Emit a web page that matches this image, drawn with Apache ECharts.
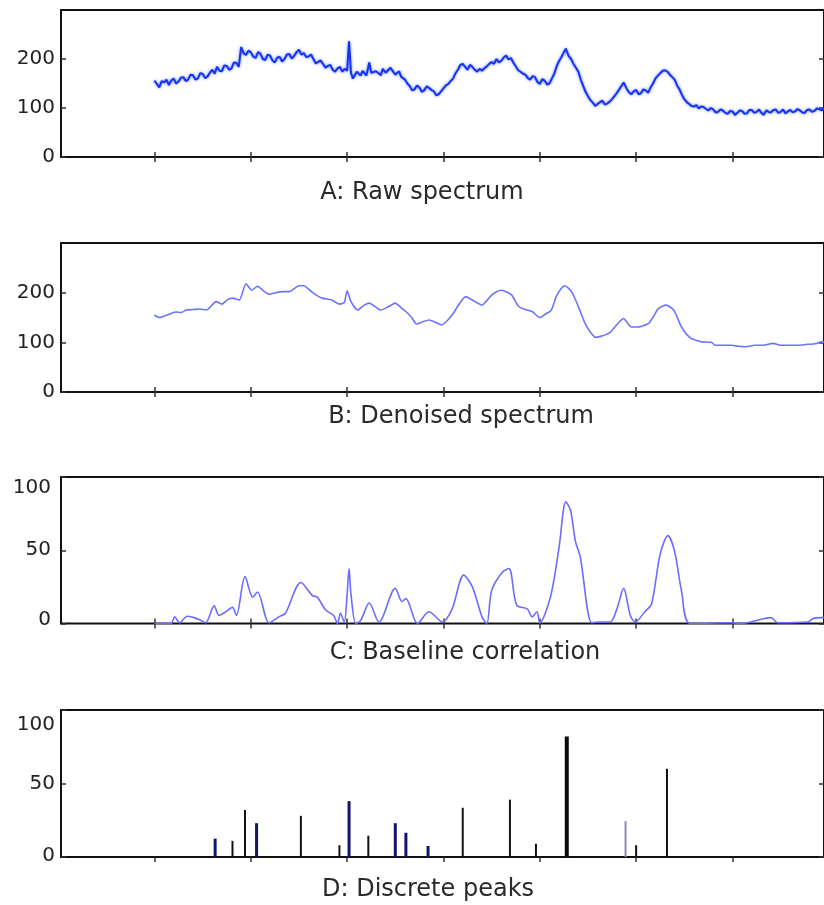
<!DOCTYPE html>
<html><head><meta charset="utf-8">
<script src="https://cdn.jsdelivr.net/npm/echarts@6/dist/echarts.min.js"></script>
<style>html,body{margin:0;padding:0;background:#fff}#c{width:824px;height:905px}</style>
</head><body><div id="c"></div>
<script>
// ---------------- data ----------------
const xTicks = [100, 200, 300, 400, 500, 600, 700];
const xMin = 3, xMax = 795;
const yTicksSpectrum = [0, 100, 200];
const yTicksCorr = [0, 50, 100];
const panelTitles = ['A: Raw spectrum', 'B: Denoised spectrum', 'C: Baseline correlation', 'D: Discrete peaks'];

const rawSpectrum = [[100,156],[102.5,149],[105,142],[107.5,155],[110,152],[112.5,158],[115,147],[117.5,156],[120,160],[122.5,150],[125,154],[127.5,162],[130,163],[132.5,155],[135,158],[137.5,168],[140,167],[142.5,158],[145,160],[147.5,171],[150,170],[152.5,161],[155,164],[157.5,172],[160,178],[162.5,170],[165,184],[167.5,176],[170,175],[172.5,187],[175,186],[177.5,178],[180,181],[182.5,193],[185,192],[187.5,184],[190,224],[192.5,212],[195,208],[197.5,217],[200,214],[202.5,205],[205,202],[207.5,214],[210,211],[212.5,200],[215,198],[217.5,209],[220,207],[222.5,197],[225,193],[227.5,203],[230,204],[232.5,195],[235,200],[237.5,209],[240,210],[242.5,201],[245,206],[247.5,214],[250,219],[252.5,209],[255,212],[257.5,204],[260,205],[262.5,209],[265,200],[267.5,191],[270,194],[272.5,197],[275,190],[277.5,182],[280,186],[282.5,188],[285,178],[287.5,174],[290,181],[292.5,184],[295,174],[297.5,180],[300,176],[302,236],[304,172],[306,160],[308,164],[310,174],[312,170],[314,166],[316,176],[318,171],[320,166],[323,193],[325,172],[327,168],[330,175],[332,172],[335,167],[337,180],[340,172],[342,175],[345,182],[347,178],[350,168],[352,170],[354,175],[356,164],[358,160],[360,158],[362.5,150],[365,145],[367.5,136],[370,138],[372.5,146],[375,142],[377.5,133],[380,136],[382.5,144],[385,141],[387.5,137],[390,134],[392.5,126],[395,128],[397.5,134],[400,140],[402.5,146],[405,149],[407.5,155],[410,160],[412.5,171],[415,178],[417.5,188],[420,190],[422.5,184],[425,178],[427.5,188],[430,184],[432.5,178],[435,174],[437.5,180],[440,176],[442.5,181],[445,185],[447.5,190],[450,194],[452.5,190],[455,200],[457.5,193],[460,196],[462.5,203],[465,207],[467.5,199],[470,202],[472.5,193],[475,185],[477.5,177],[480,174],[482.5,170],[485,168],[487.5,161],[490,158],[492.5,165],[495,163],[497.5,153],[500,149],[502.5,159],[505,156],[507.5,148],[510,150],[512.5,160],[515,170],[517.5,185],[520,196],[522.5,204],[525,214],[527,221],[530,206],[532.5,200],[535,190],[537.5,182],[540,174],[542.5,158],[545,145],[547.5,133],[550,124],[552.5,116],[555,111],[557.5,104],[560,108],[562.5,112],[565,115],[567.5,107],[570,109],[572.5,113],[575,118],[577.5,124],[580,131],[582.5,138],[585,146],[587,152],[590,140],[592.5,132],[595,128],[597.5,134],[600,137],[602.5,128],[605,130],[607.5,138],[610,136],[612.5,131],[615,142],[617.5,150],[620,160],[622.5,166],[625,171],[627.5,176],[630,177],[632.5,174],[635,168],[637.5,163],[640,158],[642.5,146],[645,138],[647.5,127],[650,118],[652.5,112],[655,108],[657.5,104],[660,103],[662.5,106],[665,99],[667.5,103],[670,102],[672.5,98],[675,95],[677.5,100],[680,97],[682.5,91],[685,92],[687.5,97],[690,95],[692.5,90],[695,88],[697.5,94],[700,93],[702.5,86],[705,90],[707.5,95],[710,94],[712.5,88],[715,89],[717.5,96],[720,96],[722.5,90],[725,92],[727.5,97],[730,90],[732.5,86],[735,95],[737.5,92],[740,91],[742.5,96],[745,97],[747.5,90],[750,92],[752.5,97],[755,89],[757.5,93],[760,96],[762.5,91],[765,93],[767.5,98],[770,95],[772.5,91],[775,90],[777.5,96],[780,97],[782.5,92],[785,94],[787.5,99],[790,98],[792.5,95],[795,100]];

const denoisedSpectrum = [[100,155],[105,150],[113,155],[122,161],[128,160],[133,165],[140,166],[147,167],[154,165],[164,182],[170,177],[176,186],[181,189],[188,185],[195,218],[201,205],[207,213],[213,204],[219,197],[226,200],[233,202],[240,202],[245,208],[250,214],[255,214],[263,202],[268,195],[274,189],[284,185],[292,177],[297,180],[300,204],[304,182],[311,165],[317,174],[323,179],[329,172],[335,165],[343,172],[350,179],[356,170],[361,162],[367,150],[372,137],[378,141],[385,145],[392,140],[398,135],[403,142],[409,155],[416,176],[423,192],[431,184],[440,175],[445,184],[450,195],[455,202],[460,205],[466,201],[471,195],[478,172],[485,166],[492,162],[500,150],[506,157],[512,165],[517,192],[522,208],[526,214],[533,202],[540,172],[547,138],[552,122],[558,110],[563,112],[568,115],[573,120],[578,131],[583,142],[587,148],[591,139],[595,131],[602,131],[608,134],[613,138],[618,152],[623,168],[631,175],[639,165],[647,131],[652,117],[657,108],[664,103],[668,101],[678,100],[682,94],[690,94],[699,94],[706,92],[714,91],[723,94],[732,94],[742,98],[750,94],[760,94],[768,94],[778,96],[786,97],[792,101],[795,101]];

const baselineCorrelation = [[100,0],[117,0],[121,4.5],[126,0.5],[134,5],[141,4],[147,2.5],[153,0.5],[162,12],[167,5.5],[174,8],[181,11],[185,5.5],[194,32],[202,18],[207,21.5],[219,0.5],[229,4.5],[236,7],[252,28],[264,19],[269,18],[278,9],[286,5.5],[290,0],[293,7],[297,1],[300,20],[302,37.5],[304,20],[309,0],[314,2],[323,14],[333,1],[350,24],[357,15],[361,17],[373,0],[385,8],[399,1],[409,10],[421,33],[430,25],[440,4.5],[445,0],[450,22.5],[461,35],[468,37.5],[476,12.5],[487,10],[492,4.5],[497,8],[500,0.5],[511,18],[520,52],[527,83],[532,77],[537,56],[542,45.5],[554,0.5],[561,1],[573,1],[580,10],[587,24],[594,5.5],[599,1],[609,8],[616,13.5],[625,47.5],[633,60],[640,49],[647,22.5],[656,0],[699,0.5],[709,0],[740,4],[747,0.5],[778,1],[784,3.5],[792,4],[795,4]];

const navyPeaks = [[163,12.5],[206,23],[302,38],[350,23],[361,16.5],[384,7.5]];
const blackPeaks = [[181,11],[194,32],[252,28],[292,8],[322,14.5],[420,33.5],[469,39],[496,9],[600,8],[632,60]];
const majorPeak = [[528,82]];
const faintPeak = [[589,24.5]];

// ---------------- layout ----------------
const FONT = 'DejaVu Sans';
const L = 61, W = 765;
const panels = [
  { top: 10,  h: 147,   yMax: 300, yTicks: yTicksSpectrum, margin: 6,  hiPad: 0,  loPad: 0, bottomTicks: true, titleX: 422, titleY: 193 },
  { top: 243, h: 149,   yMax: 300, yTicks: yTicksSpectrum, margin: 6,  hiPad: 0,  loPad: 0, bottomTicks: true, titleX: 461, titleY: 417 },
  { top: 477, h: 146.5, yMax: 100, yTicks: yTicksCorr,     margin: 10, hiPad: 22, loPad: 8, bottomTicks: true, titleX: 465, titleY: 653 },
  { top: 710, h: 147,   yMax: 100, yTicks: yTicksCorr,     margin: 6,  hiPad: 30, loPad: 3, bottomTicks: false, titleX: 428, titleY: 890 }
];

const grids = [], xAxes = [], yAxes = [];
panels.forEach((p, i) => {
  grids.push({ left: L, top: p.top, width: W, height: p.h, show: true, borderColor: '#111', borderWidth: 2, backgroundColor: 'transparent' });
  const tick = { inside: true, length: 5, customValues: xTicks, lineStyle: { color: '#333', width: 1.5 } };
  xAxes.push({ type: 'value', gridIndex: i, min: xMin, max: xMax, position: 'bottom',
    axisLine: { show: false }, splitLine: { show: false }, axisLabel: { show: false },
    axisTick: Object.assign({ show: p.bottomTicks }, tick) });
  xAxes.push({ type: 'value', gridIndex: i, min: xMin, max: xMax, position: 'top',
    axisLine: { show: false }, splitLine: { show: false }, axisLabel: { show: false },
    axisTick: Object.assign({ show: true }, tick) });
  const topVal = p.yTicks[p.yTicks.length - 1];
  const lblStyle = { fontFamily: FONT, fontSize: 20, color: '#222' };
  yAxes.push({ type: 'value', gridIndex: i, min: 0, max: p.yMax, position: 'left',
    axisLine: { show: false }, splitLine: { show: false },
    axisTick: { show: true, inside: true, length: 5, customValues: p.yTicks, lineStyle: { color: '#333', width: 1.5 } },
    axisLabel: Object.assign({ customValues: p.yTicks, margin: p.margin,
      formatter: v => (p.hiPad && v === topVal) ? '{hi|' + v + '}' : (p.loPad && v === 0) ? '{lo|' + v + '}' : '{n|' + v + '}',
      rich: {
        n: Object.assign({}, lblStyle),
        hi: Object.assign({ padding: [p.hiPad, 0, 0, 0] }, lblStyle),
        lo: Object.assign({ padding: [0, 0, p.loPad, 0] }, lblStyle)
      } }, lblStyle) });
  yAxes.push({ type: 'value', gridIndex: i, min: 0, max: p.yMax, position: 'right',
    axisLine: { show: false }, splitLine: { show: false }, axisLabel: { show: false },
    axisTick: { show: true, inside: true, length: 5, customValues: p.yTicks, lineStyle: { color: '#333', width: 1.5 } } });
});

function stems(data, color, width, gi) {
  return {
    type: 'custom', xAxisIndex: gi * 2, yAxisIndex: gi * 2, data: data,
    encode: { x: 0, y: 1 }, silent: true,
    renderItem: (params, api) => {
      const b = api.coord([api.value(0), 0]);
      const t = api.coord([api.value(0), api.value(1)]);
      return { type: 'line', shape: { x1: b[0], y1: b[1], x2: t[0], y2: t[1] },
        style: { stroke: color, lineWidth: width } };
    }
  };
}

const option = {
  animation: false,
  backgroundColor: '#fff',
  grid: grids, xAxis: xAxes, yAxis: yAxes,
  graphic: panels.map((p, i) => ({
    type: 'text', x: p.titleX, y: p.titleY,
    style: { text: panelTitles[i], font: '24px "DejaVu Sans"', fill: '#2a2a2a', textAlign: 'center', textVerticalAlign: 'middle' }
  })),
  series: [
    { type: 'line', xAxisIndex: 0, yAxisIndex: 0, data: rawSpectrum, symbol: 'none',
      lineStyle: { color: '#1434f2', width: 2, shadowBlur: 3, shadowColor: 'rgba(40,70,255,0.7)' } },
    { type: 'line', xAxisIndex: 2, yAxisIndex: 2, data: denoisedSpectrum, symbol: 'none', smooth: 0.2,
      lineStyle: { color: '#6a74ff', width: 1.6 } },
    { type: 'line', xAxisIndex: 4, yAxisIndex: 4, data: baselineCorrelation, symbol: 'none', smooth: 0.3,
      lineStyle: { color: '#6c6cff', width: 1.6 } },
    stems(navyPeaks, '#14146a', 3, 3),
    stems(blackPeaks, '#111111', 2, 3),
    stems(majorPeak, '#0a0a0a', 4, 3),
    stems(faintPeak, '#8c8cc4', 2, 3)
  ]
};

const chart = echarts.init(document.getElementById('c'), null, { renderer: 'canvas' });
chart.setOption(option);
</script>
</body></html>
